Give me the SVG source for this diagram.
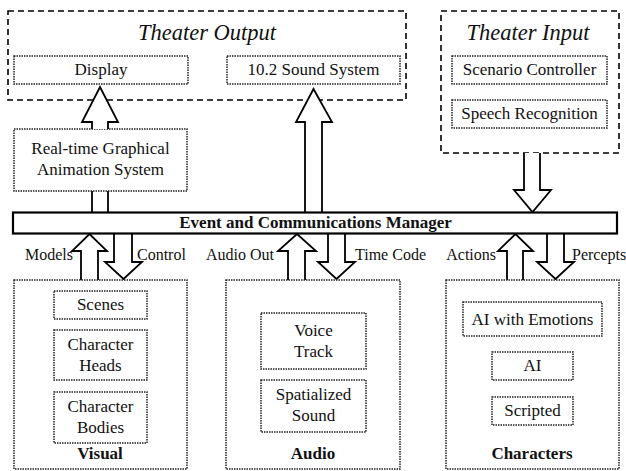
<svg xmlns="http://www.w3.org/2000/svg" width="626" height="471" viewBox="0 0 626 471" font-family="'Liberation Serif', 'DejaVu Serif', serif">
<style>
text{font-family:'Liberation Serif','DejaVu Serif',serif;fill:#111;}
.t{font-size:17px;text-anchor:middle;}
.b{font-size:17px;text-anchor:middle;font-weight:bold;}
.title{font-size:22.5px;font-style:italic;text-anchor:middle;}
.lab{font-size:16px;}
.e{text-anchor:end;}
.dash{fill:#fff;stroke:#000;stroke-width:1.6;stroke-dasharray:6 4;}
.dot{fill:#fff;stroke:#222;stroke-width:1.5;stroke-dasharray:1.5 1;}
.arr{fill:#fff;stroke:#000;stroke-width:1.8;stroke-linejoin:miter;}
.ln{stroke:#000;stroke-width:1.8;fill:none;}
.bar{fill:#fff;stroke:#000;stroke-width:2.2;}
</style>
<rect width="626" height="471" fill="#fff"/>

<g id="theater-output">
<rect class="dash" x="8" y="11" width="398" height="89"/>
<text class="title" x="207" y="40">Theater Output</text>
</g>
<g id="display">
<rect class="dot" x="14" y="56" width="174" height="28"/>
<text class="t" x="101" y="75">Display</text>
</g>
<g id="sound-system">
<rect class="dot" x="227" y="56" width="173" height="28"/>
<text class="t" x="313.5" y="75">10.2 Sound System</text>
</g>

<g id="theater-input">
<rect class="dash" x="441" y="11" width="178" height="142"/>
<text class="title" x="528" y="40">Theater Input</text>
</g>
<g id="scenario-controller">
<rect class="dot" x="452" y="56" width="155" height="28"/>
<text class="t" x="529.5" y="75">Scenario Controller</text>
</g>
<g id="speech-recognition">
<rect class="dot" x="452" y="100" width="155" height="28"/>
<text class="t" x="529.5" y="119">Speech Recognition</text>
</g>

<g id="animation-system">
<rect class="dot" x="14" y="129" width="173" height="62"/>
<text class="t" x="100.5" y="154">Real-time Graphical</text>
<text class="t" x="100.5" y="175">Animation System</text>
</g>

<g id="connectors">
<path class="arr" d="M92,129 V122 H82 L100,87 L118,122 H108 V129"/>
<line class="ln" x1="92" y1="191" x2="92" y2="212"/>
<line class="ln" x1="108" y1="191" x2="108" y2="212"/>
<path class="arr" d="M305,212 V122 H296 L313.5,89 L332,122 H322 V212"/>
<path class="arr" d="M524,153 V190 H514 L532.5,212 L551,190 H540 V153"/>

<path class="arr" d="M81,280 V251 H72 L89.5,234 L107,251 H98 V280"/>
<path class="arr" d="M114,234 V262 H105 L123.5,279 L142,262 H132 V234"/>
<path class="arr" d="M288,280 V251 H278 L297,234 L316,251 H305 V280"/>
<path class="arr" d="M328,234 V262 H318 L336.5,279 L355,262 H345 V234"/>
<path class="arr" d="M507,280 V251 H498 L515.5,234 L533,251 H523 V280"/>
<path class="arr" d="M547,234 V262 H537 L555.5,279 L574,262 H564 V234"/>

<text class="lab e" x="73" y="260">Models</text>
<text class="lab" x="137" y="260">Control</text>
<text class="lab e" x="274" y="260">Audio Out</text>
<text class="lab" x="355" y="260">Time Code</text>
<text class="lab e" x="496" y="260">Actions</text>
<text class="lab" x="572" y="260">Percepts</text>
</g>

<g id="event-manager">
<rect class="bar" x="13" y="212.5" width="604" height="21"/>
<text class="b" x="315.5" y="228">Event and Communications Manager</text>
</g>

<g id="visual">
<rect class="dot" x="14" y="280" width="173" height="189"/>
<text class="b" x="100" y="459">Visual</text>
</g>
<g id="scenes">
<rect class="dot" x="54" y="291" width="93" height="28"/>
<text class="t" x="100.5" y="310">Scenes</text>
</g>
<g id="character-heads">
<rect class="dot" x="54" y="330" width="93" height="50"/>
<text class="t" x="100.5" y="350">Character</text>
<text class="t" x="100.5" y="371">Heads</text>
</g>
<g id="character-bodies">
<rect class="dot" x="54" y="392" width="93" height="51"/>
<text class="t" x="100.5" y="412">Character</text>
<text class="t" x="100.5" y="433">Bodies</text>
</g>

<g id="audio">
<rect class="dot" x="226" y="280" width="174" height="189"/>
<text class="b" x="313" y="459">Audio</text>
</g>
<g id="voice-track">
<rect class="dot" x="261" y="313" width="105" height="56"/>
<text class="t" x="313.5" y="336">Voice</text>
<text class="t" x="313.5" y="357">Track</text>
</g>
<g id="spatialized-sound">
<rect class="dot" x="261" y="380" width="105" height="52"/>
<text class="t" x="313.5" y="400">Spatialized</text>
<text class="t" x="313.5" y="421">Sound</text>
</g>

<g id="characters">
<rect class="dot" x="446" y="280" width="173" height="189"/>
<text class="b" x="532" y="459">Characters</text>
</g>
<g id="ai-emotions">
<rect class="dot" x="463" y="302" width="139" height="34"/>
<text class="t" x="532.5" y="325">AI with Emotions</text>
</g>
<g id="ai">
<rect class="dot" x="492" y="352" width="81" height="28"/>
<text class="t" x="532.5" y="371">AI</text>
</g>
<g id="scripted">
<rect class="dot" x="492" y="397" width="81" height="28"/>
<text class="t" x="532.5" y="416">Scripted</text>
</g>
</svg>
